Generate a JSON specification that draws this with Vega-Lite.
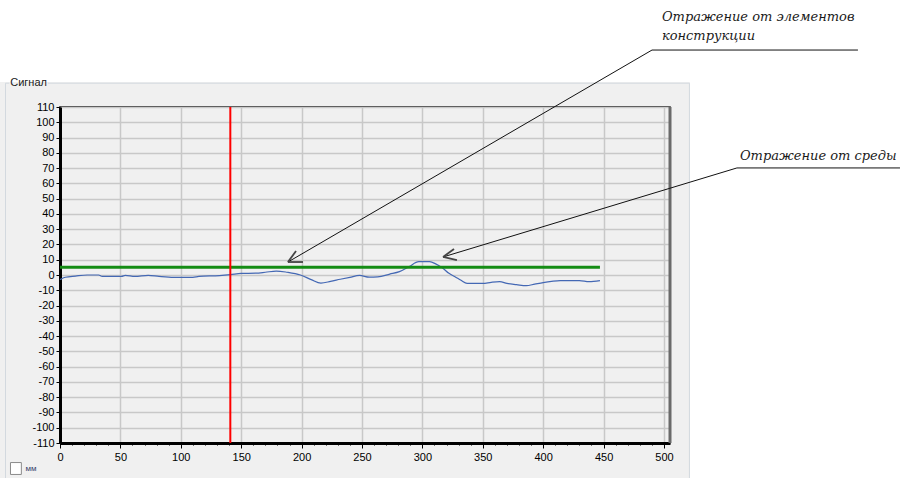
{
  "$schema": "https://vega.github.io/schema/vega-lite/v6.json",
  "width": 610,
  "height": 336,
  "autosize": {"type": "none"},
  "padding": {"left": 60, "top": 107, "right": 230, "bottom": 35},
  "background": "#f0f0f0",
  "config": {
    "view": {"stroke": "#000000", "strokeWidth": 1.5},
    "axis": {
      "grid": true,
      "labelOverlap": false,
      "labelFlush": false,
      "labelFont": "Liberation Sans",
      "labelFontSize": 11,
      "labelColor": "#000000",
      "domainColor": "#000000",
      "domainWidth": 3,
      "tickColor": "#000000",
      "gridColor": "#c8c8c8",
      "gridWidth": 1.5
    }
  },
  "datasets": {
    "signal": [
      {"x": 0, "y": -3}, {"x": 1, "y": -2.6}, {"x": 4.5, "y": -1.5}, {"x": 12.8, "y": -0.7},
      {"x": 22.5, "y": 0}, {"x": 32, "y": 0}, {"x": 35, "y": -0.9}, {"x": 51, "y": -0.9},
      {"x": 54, "y": -0.2}, {"x": 62, "y": -0.9}, {"x": 73, "y": -0.2}, {"x": 82, "y": -0.9},
      {"x": 94, "y": -1.5}, {"x": 110, "y": -1.5}, {"x": 115, "y": -0.9}, {"x": 132, "y": -0.4},
      {"x": 141, "y": 0.2}, {"x": 150, "y": 1}, {"x": 162, "y": 1.2}, {"x": 170, "y": 1.8},
      {"x": 179, "y": 2.6}, {"x": 188, "y": 1.8}, {"x": 199, "y": 0}, {"x": 208, "y": -3},
      {"x": 216, "y": -5.3}, {"x": 224, "y": -4.2}, {"x": 232, "y": -2.8}, {"x": 240, "y": -1.5},
      {"x": 248, "y": -0.3}, {"x": 256, "y": -1.4}, {"x": 263, "y": -1.2}, {"x": 273, "y": 0.6},
      {"x": 281, "y": 2.2}, {"x": 289, "y": 5.5}, {"x": 297, "y": 8.7}, {"x": 306, "y": 8.7},
      {"x": 311, "y": 7.3}, {"x": 317, "y": 4.4}, {"x": 322, "y": 1.1}, {"x": 327, "y": -1.1},
      {"x": 332, "y": -3.5}, {"x": 337, "y": -5.5}, {"x": 350, "y": -5.5}, {"x": 357, "y": -4.8},
      {"x": 364, "y": -4.4}, {"x": 370, "y": -5.5}, {"x": 378, "y": -6.3}, {"x": 386, "y": -7},
      {"x": 393, "y": -6}, {"x": 400, "y": -5}, {"x": 407, "y": -4.2}, {"x": 414, "y": -3.7},
      {"x": 430, "y": -3.7}, {"x": 438, "y": -4.4}, {"x": 447, "y": -3.7}
    ],
    "threshold": [{"x": 0, "x2": 447, "y": 5}],
    "marker": [{"x": 141}],
    "leaders": [
      {"x": 490.1, "y": 147.3, "x2": 660.6, "y2": 147.3},
      {"x": 490.1, "y": 147.3, "x2": 188.7, "y2": 8.5},
      {"x": 560.4, "y": 70.1, "x2": 695.4, "y2": 70.1},
      {"x": 560.4, "y": 70.1, "x2": 317.1, "y2": 11.8}
    ],
    "heads": [
      {"x": 188.7, "y": 8.5, "x2": 195.4, "y2": 15.7},
      {"x": 188.7, "y": 8.5, "x2": 201.2, "y2": 8.5},
      {"x": 317.1, "y": 11.8, "x2": 326.2, "y2": 17.0},
      {"x": 317.1, "y": 11.8, "x2": 328.6, "y2": 9.8}
    ],
    "notes": [
      {"x": 498.3, "y": 166.3, "text": "Отражение от элементов"},
      {"x": 498.3, "y": 153.9, "text": "конструкции"},
      {"x": 562.9, "y": 75.0, "text": "Отражение от среды"}
    ]
  },
  "layer": [
    {
      "data": {"name": "signal"},
      "mark": {"type": "line", "color": "#4468b4", "strokeWidth": 1.2, "interpolate": "monotone"},
      "encoding": {
        "x": {"field": "x", "type": "quantitative", "scale": {"domain": [0, 505], "nice": false, "zero": false}, "title": null,
          "axis": {
            "values": [0,10,20,30,40,50,60,70,80,90,100,110,120,130,140,150,160,170,180,190,200,210,220,230,240,250,260,270,280,290,300,310,320,330,340,350,360,370,380,390,400,410,420,430,440,450,460,470,480,490,500],
            "tickCount": 1000,
            "labelExpr": "datum.value % 50 === 0 ? '' + datum.value : ''",
            "tickSize": {"condition": {"test": "datum.value % 50 === 0", "value": 5}, "value": 2},
            "gridOpacity": {"condition": {"test": "datum.value % 50 === 0", "value": 1}, "value": 0},
            "labelPadding": 3,
            "labelFlush": false,
            "labelOverlap": false,
            "grid": true
          }},
        "y": {"field": "y", "type": "quantitative", "scale": {"domain": [-110, 110], "nice": false, "zero": false}, "title": null,
          "axis": {
            "values": [-110,-100,-90,-80,-70,-60,-50,-40,-30,-20,-10,0,10,20,30,40,50,60,70,80,90,100,110],
            "tickCount": 1000,
            "labelExpr": "'' + datum.value",
            "tickSize": 4,
            "labelPadding": 2,
            "labelFlush": false,
            "labelOverlap": false,
            "grid": true
          }}
      }
    },
    {
      "data": {"values": [{}]},
      "mark": {"type": "rect", "color": "#ffffff"},
      "encoding": {
        "x": {"datum": -50, "type": "quantitative"},
        "x2": {"datum": 700},
        "y": {"datum": 181, "type": "quantitative"},
        "y2": {"datum": 126.4}
      }
    },
    {
      "data": {"values": [{}]},
      "mark": {"type": "rect", "color": "#ffffff"},
      "encoding": {
        "x": {"datum": 521.5, "type": "quantitative"},
        "x2": {"datum": 700},
        "y": {"datum": 126.4, "type": "quantitative"},
        "y2": {"datum": -135}
      }
    },
    {
      "data": {"values": [{}]},
      "mark": {"type": "rule", "color": "#d3d9df", "strokeWidth": 1},
      "encoding": {
        "x": {"datum": -45.1, "type": "quantitative"},
        "y": {"datum": 125.6, "type": "quantitative"},
        "y2": {"datum": -135}
      }
    },
    {
      "data": {"values": [{}]},
      "mark": {"type": "rule", "color": "#d3d9df", "strokeWidth": 1},
      "encoding": {
        "x": {"datum": 521.1, "type": "quantitative"},
        "y": {"datum": 125.6, "type": "quantitative"},
        "y2": {"datum": -135}
      }
    },
    {
      "data": {"values": [{}]},
      "mark": {"type": "rule", "color": "#d3d9df", "strokeWidth": 1},
      "encoding": {
        "x": {"datum": -10, "type": "quantitative"},
        "x2": {"datum": 521.1},
        "y": {"datum": 125.6, "type": "quantitative"}
      }
    },
    {
      "data": {"values": [{}]},
      "mark": {"type": "rule", "color": "#d3d9df", "strokeWidth": 1},
      "encoding": {
        "x": {"datum": -45.1, "type": "quantitative"},
        "x2": {"datum": -42},
        "y": {"datum": 125.6, "type": "quantitative"}
      }
    },
    {
      "data": {"values": [{"label": "Сигнал"}]},
      "mark": {"type": "text", "align": "left", "baseline": "middle", "font": "Liberation Sans", "fontSize": 11, "color": "#1a1a1a"},
      "encoding": {
        "x": {"datum": -41.2, "type": "quantitative"},
        "y": {"datum": 126.0, "type": "quantitative"},
        "text": {"field": "label"}
      }
    },
    {
      "data": {"values": [{}]},
      "mark": {"type": "rect", "fill": "#ffffff", "stroke": "#8a8a8a", "strokeWidth": 1},
      "encoding": {
        "x": {"datum": -41.0, "type": "quantitative"},
        "x2": {"datum": -32.0},
        "y": {"datum": -122.8, "type": "quantitative"},
        "y2": {"datum": -130.6}
      }
    },
    {
      "data": {"values": [{"label": "мм"}]},
      "mark": {"type": "text", "align": "left", "baseline": "middle", "font": "Liberation Sans", "fontSize": 8, "color": "#34406a"},
      "encoding": {
        "x": {"datum": -28.5, "type": "quantitative"},
        "y": {"datum": -126.7, "type": "quantitative"},
        "text": {"field": "label"}
      }
    },
    {
      "data": {"name": "threshold"},
      "mark": {"type": "rule", "color": "#148c14", "strokeWidth": 3},
      "encoding": {
        "x": {"field": "x", "type": "quantitative"},
        "x2": {"field": "x2"},
        "y": {"field": "y", "type": "quantitative"}
      }
    },
    {
      "data": {"name": "marker"},
      "mark": {"type": "rule", "color": "#ff0000", "strokeWidth": 2},
      "encoding": {
        "x": {"field": "x", "type": "quantitative"}
      }
    },
    {
      "data": {"values": [{}]},
      "mark": {"type": "rule", "color": "#6a6a6a", "strokeWidth": 3},
      "encoding": {
        "x": {"datum": 505, "type": "quantitative"}
      }
    },
    {
      "data": {"name": "leaders"},
      "mark": {"type": "rule", "color": "#111111", "strokeWidth": 1},
      "encoding": {
        "x": {"field": "x", "type": "quantitative"},
        "y": {"field": "y", "type": "quantitative"},
        "x2": {"field": "x2"},
        "y2": {"field": "y2"}
      }
    },
    {
      "data": {"name": "heads"},
      "mark": {"type": "rule", "color": "#444444", "strokeWidth": 1.8},
      "encoding": {
        "x": {"field": "x", "type": "quantitative"},
        "y": {"field": "y", "type": "quantitative"},
        "x2": {"field": "x2"},
        "y2": {"field": "y2"}
      }
    },
    {
      "data": {"name": "notes"},
      "mark": {"type": "text", "align": "left", "baseline": "alphabetic", "font": "DejaVu Serif", "fontStyle": "italic", "fontSize": 13, "color": "#1a1a1a"},
      "encoding": {
        "x": {"field": "x", "type": "quantitative"},
        "y": {"field": "y", "type": "quantitative"},
        "text": {"field": "text"}
      }
    }
  ]
}
